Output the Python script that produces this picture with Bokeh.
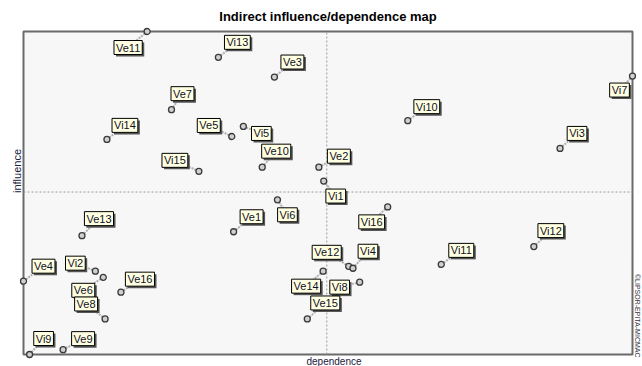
import math
from bokeh.plotting import figure
from bokeh.models import Range1d, ColumnDataSource
from bokeh.core.properties import value
from bokeh.embed import file_html
from bokeh.resources import INLINE

# ---- data (arbitrary 0-100 scale) ----
names = ["Ve1", "Ve2", "Ve3", "Ve4", "Ve5", "Ve6", "Ve7", "Ve8",
         "Ve9", "Ve10", "Ve11", "Ve12", "Ve13", "Ve14", "Ve15", "Ve16",
         "Vi1", "Vi2", "Vi3", "Vi4", "Vi5", "Vi6", "Vi7", "Vi8",
         "Vi9", "Vi10", "Vi11", "Vi12", "Vi13", "Vi14", "Vi15", "Vi16"]
dependence = [34.5, 48.5, 41.2, 0.0, 34.2, 13.1, 24.3, 13.4,
              6.5, 39.2, 20.3, 53.4, 9.6, 49.2, 46.6, 16.0,
              49.3, 11.8, 88.1, 54.1, 36.1, 41.7, 100.0, 55.2,
              1.0, 63.1, 68.6, 83.8, 32.0, 13.7, 28.8, 59.8]
influence = [38.0, 58.0, 85.9, 22.7, 67.5, 23.9, 75.8, 11.0,
             1.5, 58.0, 100.0, 27.3, 36.8, 25.8, 11.0, 19.3,
             53.7, 25.8, 63.8, 26.7, 70.6, 47.9, 86.2, 22.4,
             0.0, 72.4, 27.9, 33.4, 92.0, 66.6, 56.7, 45.7]
mean_dependence = 49.8
mean_influence = 50.3

title_text = "Indirect influence/dependence map"
x_label = "dependence"
y_label = "influence"
credit = "\u00a9LIPSOR-EPITA-MICMAC"

# ---- layout: label placement relative to its point (pixels, +x right, +y down) ----
label_dx = [18, 20, 18, 20, -23, -20, 11, -19,
            20, 14, -19, -22, 17, -17, 18, 19,
            12, -20, 17, 15, 18, 10, -13, -20,
            14, 19, 20, 17, 19, 18, -24, -16]
label_dy = [-15, -11, -15, -15, -11, 13, -16, -15,
            -11, -16, 16, -14, -17, 15, -16, -13,
            15, -8, -15, -17, 7, 15, 14, 5,
            -16, -14, -14, -16, -15, -14, -11, 15]

W, H = 642, 366
PAD_L, PAD_R, PAD_T, PAD_B = 23, 10, 31, 12
X0, X1, Y0, Y1 = 0.0, 100.0, 0.0, 100.0
sx = (X1 - X0) / (W - PAD_L - PAD_R)
sy = (Y1 - Y0) / (H - PAD_T - PAD_B)

lx = [x + dx * sx for x, dx in zip(dependence, label_dx)]
ly = [y - dy * sy for y, dy in zip(influence, label_dy)]

src = ColumnDataSource(dict(x=dependence, y=influence, lx=lx, ly=ly, name=names))

p = figure(width=W, height=H,
           x_range=Range1d(X0 - PAD_L * sx, X1 + PAD_R * sx),
           y_range=Range1d(Y0 - PAD_B * sy, Y1 + PAD_T * sy),
           output_backend="svg", toolbar_location=None,
           min_border=0)
p.axis.visible = False
p.grid.visible = False
p.background_fill_color = "white"
p.border_fill_color = "white"
p.outline_line_color = None

FONT = value("Liberation Sans")

# plot box
p.quad(left=[X0], right=[X1], bottom=[Y0], top=[Y1],
       fill_color="#f7f7f7", line_color="#6a6a6a", line_width=2)

# mean lines
p.segment(x0=[mean_dependence], y0=[Y0], x1=[mean_dependence], y1=[Y1],
          line_color="#9a9a9a", line_dash="2 2", line_width=1)
p.segment(x0=[X0], y0=[mean_influence], x1=[X1], y1=[mean_influence],
          line_color="#9a9a9a", line_dash="2 2", line_width=1)

# titles
p.text(x=[(X0 + X1) / 2], y=[Y1], text=[title_text], y_offset=-15,
       text_align="center", text_baseline="middle", text_font=FONT,
       text_font_size="13px", text_font_style="bold", text_color="#000000")
p.text(x=[(X0 + X1) / 2], y=[Y0], text=[x_label], x_offset=6, y_offset=PAD_B,
       text_align="center", text_baseline="bottom", text_font=FONT,
       text_font_size="10px", text_color="#202040")
p.text(x=[X0], y=[(Y0 + Y1) / 2], text=[y_label], x_offset=-1, y_offset=-22,
       angle=math.pi / 2, text_align="center", text_baseline="bottom",
       text_font=FONT, text_font_size="11px", text_color="#202040")
p.text(x=[X1], y=[Y0], text=[credit], x_offset=1, y_offset=3,
       angle=-math.pi / 2, text_align="right", text_baseline="bottom",
       text_font=FONT, text_font_size="7px", text_color="#303040")

# leader lines and points
p.segment(x0="x", y0="y", x1="lx", y1="ly", source=src,
          line_color="#b0b0b0", line_width=2, line_dash="2 1")
p.scatter(x="x", y="y", source=src, size=6, fill_color="#d0d0d0",
          line_color="#3a3a3a", line_width=1.3)

# label shadow
p.text(x="lx", y="ly", text="name", source=src, text_align="center",
       text_baseline="middle", text_font=FONT,
       text_font_size="11px", text_alpha=0, x_offset=2, y_offset=2,
       background_fill_color="#555555", padding=(2, 1))
# label boxes
p.text(x="lx", y="ly", text="name", source=src, text_align="center",
       text_baseline="middle", text_font=FONT,
       text_font_size="11px", text_color="#10102a",
       background_fill_color="#ffffe1", border_line_color="#000000",
       border_line_width=1, padding=(2, 1))

open("out.html", "w").write(file_html(p, INLINE))
